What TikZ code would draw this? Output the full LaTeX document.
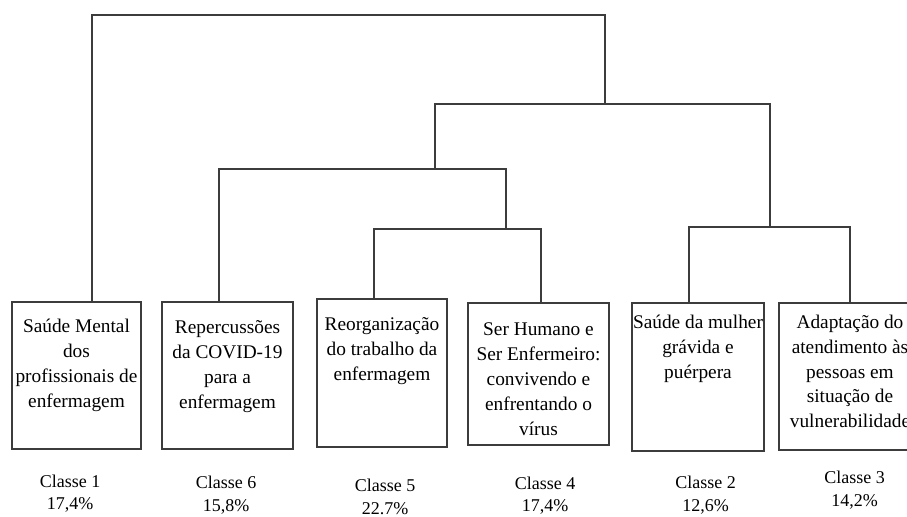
\documentclass[tikz,border=0pt]{standalone}
\usepackage{fontspec}
\setmainfont{Liberation Serif}
\usepackage{tikz}
\usepackage{xcolor}

\begin{document}
\begin{tikzpicture}[x=0.75pt, y=-0.75pt]
    \definecolor{treeline}{RGB}{60,60,60}
    \tikzset{
        classbox/.style={draw=treeline, line width=0.9pt, inner sep=0pt,
            font=\fontsize{14.5}{18.6}\selectfont},
        classlabel/.style={align=center, inner sep=0pt,
            font=\fontsize{13.5}{17}\selectfont},
        tree/.style={draw=treeline, line width=1pt}
    }
    \useasboundingbox (0,0) rectangle (907,517);
    % class boxes: name / x / y / width / height / top gap / text
    \foreach \n/\cx/\cy/\w/\h/\gap/\txt in {%
        c1/76.5/375.5/129/147/13/{Saúde Mental\\dos\\profissionais de\\enfermagem},
        c6/227.5/375.5/131/147/14/{Repercussões\\da COVID-19\\para a\\enfermagem},
        c5/382/373/130/148/14/{Reorganização\\do trabalho da\\enfermagem},
        c4/538.5/374/141/142/15/{Ser Humano e\\Ser Enfermeiro:\\convivendo e\\enfrentando o\\vírus},
        c2/698/377/132/148/9/{\mbox{Saúde da mulher}\\grávida e\\puérpera},
        c3/850/376.5/142/147/9/{Adaptação do\\\mbox{atendimento às}\\pessoas em\\situação de\\vulnerabilidade}%
    }{
        \pgfmathsetlengthmacro\bw{\w*0.75pt}
        \pgfmathsetlengthmacro\bh{\h*0.75pt}
        \node[classbox] (\n) at (\cx,\cy)
            {\parbox[t][\bh][t]{\bw}{\centering\vspace*{\gap pt}\txt}};
    }
    % class names and shares
    \foreach \n/\cx/\cy/\txt in {%
        l1/70/493.5/{Classe 1\\17,4\%}, l6/226/495/{Classe 6\\15,8\%},
        l5/385/497/{Classe 5\\22.7\%}, l4/545/495.5/{Classe 4\\17,4\%},
        l2/705.5/495/{Classe 2\\12,6\%}, l3/854.7/490/{Classe 3\\14,2\%}%
    }{
        \node[classlabel] (\n) at (\cx,\cy) {\txt};
    }
    % stems and junctions of the tree
    \coordinate (s1) at (92,0);
    \coordinate (s6) at (219,0);
    \coordinate (s5) at (374,0);
    \coordinate (s4) at (541,0);
    \coordinate (s2) at (689,0);
    \coordinate (s3) at (850,0);
    \coordinate (j54) at (506,229);
    \coordinate (j654) at (435,169);
    \coordinate (j23) at (770,227);
    \coordinate (jr) at (605,104);
    \coordinate (jtop) at (605,15);
    % dendrogram
    \draw[tree] (c5.north -| s5) |- (j54) -| (c4.north -| s4);
    \draw[tree] (c6.north -| s6) |- (j654) -| (j54);
    \draw[tree] (c2.north -| s2) |- (j23) -| (c3.north -| s3);
    \draw[tree] (j654) |- (jr) -| (j23);
    \draw[tree] (c1.north -| s1) |- (jtop) -- (jr);
\end{tikzpicture}
\end{document}
